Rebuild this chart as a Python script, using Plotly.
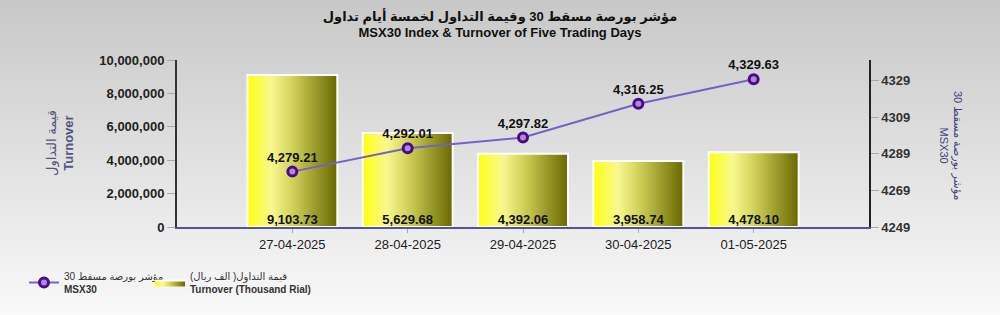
import base64, struct, zlib
import plotly.graph_objects as go

# ---------------- data ----------------
dates = ["27-04-2025", "28-04-2025", "29-04-2025", "30-04-2025", "01-05-2025"]
turnover_thousand = [9103.73, 5629.68, 4392.06, 3958.74, 4478.10]   # labels (thousand rial)
turnover_axis = [9103730, 5629680, 4392060, 3958740, 4478100]       # plotted on left axis
msx30 = [4279.21, 4292.01, 4297.82, 4316.25, 4329.63]
left_ticks = [0, 2000000, 4000000, 6000000, 8000000, 10000000]
right_ticks = [4249, 4269, 4289, 4309, 4329]

FONT = "Liberation Sans, Arial, DejaVu Sans, sans-serif"

# ---------------- background gradient (1 x H png) ----------------
def gradient_png(h, top, bottom):
    raw = b""
    for i in range(h):
        t = i / (h - 1)
        c = bytes(int(round(top[k] + (bottom[k] - top[k]) * t)) for k in range(3))
        raw += b"\x00" + c
    def chunk(tag, data):
        return struct.pack(">I", len(data)) + tag + data + struct.pack(">I", zlib.crc32(tag + data) & 0xffffffff)
    png = b"\x89PNG\r\n\x1a\n" + chunk(b"IHDR", struct.pack(">IIBBBBB", 1, h, 8, 2, 0, 0, 0)) \
        + chunk(b"IDAT", zlib.compress(raw)) + chunk(b"IEND", b"")
    return "data:image/png;base64," + base64.b64encode(png).decode()

W, H = 1000, 315
L, R, T, B = 177, 131, 60, 88
PW, PH = W - L - R, H - T - B

def px(x):
    return (x - L) / PW

def py(y):
    return (H - B - y) / PH

fig = go.Figure()

bar_w = 0.78
grad = [[0, "#ffff10"], [0.27, "#f8f890"], [0.5, "#d2d25a"], [1, "#686800"]]
for i, v in enumerate(turnover_axis):
    x0, x1 = i - bar_w / 2, i + bar_w / 2
    fig.add_trace(go.Scatter(
        x=[x0, x0, x1, x1, x0], y=[0, v, v, 0, 0],
        mode="lines", fill="toself",
        fillgradient=dict(type="horizontal", colorscale=grad),
        line=dict(color="white", width=2),
        name="قيمة التداول( الف ريال)<br><b>Turnover (Thousand Rial)</b>",
        legend="legend2", legendgroup="turn", showlegend=(i == 0),
        hoverinfo="skip", yaxis="y"))

fig.add_trace(go.Scatter(
    x=list(range(len(dates))), y=[0] * len(dates),
    mode="text", text=[f"{v:,.2f}" for v in turnover_thousand],
    textposition="top center",
    textfont=dict(family=FONT, size=13, color="#111111", weight="bold"),
    showlegend=False, hoverinfo="skip", yaxis="y"))

fig.add_trace(go.Scatter(
    x=list(range(len(dates))), y=msx30, yaxis="y2",
    mode="lines+markers+text",
    text=[f"{v:,.2f}" for v in msx30], textposition="top center",
    textfont=dict(family=FONT, size=13, color="#111111", weight="bold"),
    line=dict(color="#7462c8", width=2),
    marker=dict(size=9, color="#a98cd6", line=dict(color="#4b0a8a", width=3)),
    name="مؤشر بورصة مسقط 30<br><b>MSX30</b>", legend="legend"))

legend_common = dict(orientation="h", xref="container", yref="container",
                     y=(H - 263) / H, xanchor="left", yanchor="top", itemwidth=30,
                     bgcolor="rgba(0,0,0,0)",
                     font=dict(family=FONT, size=10, color="#333333"))

fig.update_layout(
    width=W, height=H,
    margin=dict(l=L, r=R, t=T, b=B, autoexpand=False),
    paper_bgcolor="#e0e0e0", plot_bgcolor="rgba(0,0,0,0)",
    font=dict(family=FONT, color="#222222"),
    title=dict(
        text="<b>مؤشر بورصة مسقط 30 وقيمة التداول لخمسة أيام تداول</b><br><b>MSX30 Index & Turnover of Five Trading Days</b>",
        x=0.5, xref="container", xanchor="center",
        y=1 - 20.5 / H, yref="container", yanchor="middle",
        font=dict(family=FONT, size=13, color="#111111")),
    xaxis=dict(range=[-1, 5], tickvals=list(range(len(dates))), ticktext=dates,
               showgrid=False, zeroline=False, showline=True, linecolor="#56568c", linewidth=2,
               ticks="outside", ticklen=4, tickcolor="#aaaaaa",
               tickfont=dict(family=FONT, size=13, color="#222222"), fixedrange=True),
    yaxis=dict(range=[0, 10000000], tickvals=left_ticks, tickformat=",d",
               showgrid=False, zeroline=False, showline=True, linecolor="#333333", linewidth=2,
               ticks="outside", ticklen=8, tickcolor="#aaaaaa",
               tickfont=dict(family=FONT, size=13, color="#222222", weight="bold")),
    yaxis2=dict(range=[4249, 4340.1], tickvals=right_ticks, overlaying="y", side="right",
                showgrid=False, zeroline=False, showline=True, linecolor="#222222", linewidth=1.5,
                ticks="outside", ticklen=8, tickcolor="#aaaaaa",
                tickfont=dict(family=FONT, size=13, color="#333333", weight="bold")),
    legend=dict(x=0.024, **legend_common),
    legend2=dict(x=0.150, **legend_common),
    showlegend=True,
    images=[dict(source=gradient_png(H, (200, 200, 200), (249, 249, 249)),
                 xref="paper", yref="paper", x=px(0), y=py(0),
                 sizex=W / PW, sizey=H / PH, xanchor="left", yanchor="top",
                 sizing="stretch", layer="below")],
    annotations=[
        dict(text="قيمة التداول<br><b>Turnover</b>", textangle=-90,
             xref="paper", yref="paper", x=px(60), y=py(143),
             xanchor="center", yanchor="middle", showarrow=False,
             font=dict(family=FONT, size=13, color="#55557f")),
        dict(text="مؤشر بورصة مسقط 30<br>MSX30", textangle=90,
             xref="paper", yref="paper", x=px(951), y=py(145),
             xanchor="center", yanchor="middle", showarrow=False,
             font=dict(family=FONT, size=11, color="#44447a")),
    ],
)

fig.write_html("out.html")
